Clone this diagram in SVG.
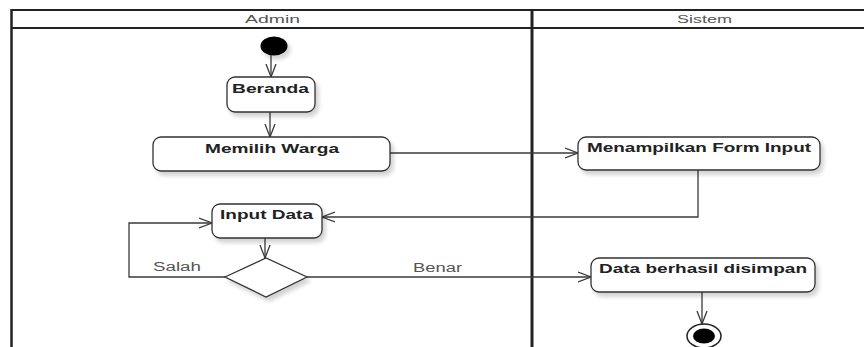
<svg xmlns="http://www.w3.org/2000/svg" width="864" height="347" viewBox="0 0 864 347">
<style>
.lane{stroke:#222;fill:none}
.hdr{font-family:"Liberation Sans",Arial,sans-serif;font-size:11.5px;fill:#555}
.node{fill:#fff;stroke:#333;stroke-width:1.3}
.lbl{font-family:"Liberation Sans",Arial,sans-serif;font-weight:bold;font-size:13.5px;fill:#222}
.guard{font-family:"Liberation Sans",Arial,sans-serif;font-size:12.5px;fill:#555}
.edge{fill:none;stroke:#3a3a3a;stroke-width:1.3}
</style>
<defs>
<filter id="sh" x="-10%" y="-10%" width="130%" height="150%">
<feGaussianBlur in="SourceAlpha" stdDeviation="2"/>
<feOffset dx="3" dy="4" result="b"/>
<feComponentTransfer><feFuncA type="linear" slope="0.18"/></feComponentTransfer>
<feMerge><feMergeNode/><feMergeNode in="SourceGraphic"/></feMerge>
</filter>
<marker id="arr" markerUnits="userSpaceOnUse" markerWidth="16" markerHeight="14" refX="13" refY="6" orient="auto">
<path d="M0,1 L13,6 L0,11" fill="none" stroke="#3a3a3a" stroke-width="1.3"/>
</marker>
</defs>
<rect width="864" height="347" fill="#fff"/>
<g id="swimlanes">
<line class="lane" x1="11" y1="10" x2="864" y2="10" stroke-width="2"/>
<line class="lane" x1="11" y1="28" x2="864" y2="28" stroke-width="2"/>
<line class="lane" x1="11.5" y1="9" x2="11.5" y2="347" stroke-width="2.5"/>
<line class="lane" x1="532" y1="9" x2="532" y2="347" stroke-width="3"/>
<text class="hdr" x="245" y="23" textLength="55" lengthAdjust="spacingAndGlyphs">Admin</text>
<text class="hdr" x="677" y="23" textLength="55" lengthAdjust="spacingAndGlyphs">Sistem</text>
</g>
<g id="connectors">
<line class="edge" x1="271" y1="55" x2="271" y2="77" marker-end="url(#arr)"/>
<line class="edge" x1="270" y1="112" x2="270" y2="137" marker-end="url(#arr)"/>
<line class="edge" x1="390" y1="153" x2="578" y2="153" marker-end="url(#arr)"/>
<polyline class="edge" points="698,170 698,217 322,217" marker-end="url(#arr)"/>
<line class="edge" x1="265" y1="238" x2="265" y2="258" marker-end="url(#arr)"/>
<polyline class="edge" points="225,277 129,277 129,223 212,223" marker-end="url(#arr)"/>
<line class="edge" x1="307" y1="277" x2="591" y2="277" marker-end="url(#arr)"/>
<line class="edge" x1="702" y1="292" x2="702" y2="324" marker-end="url(#arr)"/>
<text class="guard" x="153" y="271" textLength="48" lengthAdjust="spacingAndGlyphs">Salah</text>
<text class="guard" x="413" y="272" textLength="49" lengthAdjust="spacingAndGlyphs">Benar</text>
</g>
<g id="start">
<ellipse cx="274" cy="46" rx="13.5" ry="9.5" fill="#000" filter="url(#sh)"/>
</g>
<g id="beranda">
<rect class="node" x="227" y="77" width="88" height="35" rx="8" filter="url(#sh)"/>
<text class="lbl" x="232" y="93" textLength="77" lengthAdjust="spacingAndGlyphs">Beranda</text>
</g>
<g id="memilih-warga">
<rect class="node" x="153" y="137" width="237" height="34" rx="8" filter="url(#sh)"/>
<text class="lbl" x="205" y="152.5" textLength="134" lengthAdjust="spacingAndGlyphs">Memilih Warga</text>
</g>
<g id="menampilkan-form-input">
<rect class="node" x="578" y="137" width="242" height="33" rx="8" filter="url(#sh)"/>
<text class="lbl" x="587" y="152" textLength="224" lengthAdjust="spacingAndGlyphs">Menampilkan Form Input</text>
</g>
<g id="input-data">
<rect class="node" x="212" y="204" width="110" height="34" rx="8" filter="url(#sh)"/>
<text class="lbl" x="220" y="219" textLength="93" lengthAdjust="spacingAndGlyphs">Input Data</text>
</g>
<g id="decision">
<polygon class="node" points="225,277 266,258 307,277 266,297" filter="url(#sh)"/>
</g>
<g id="data-berhasil-disimpan">
<rect class="node" x="591" y="258" width="224" height="34" rx="8" filter="url(#sh)"/>
<text class="lbl" x="599" y="272.5" textLength="208" lengthAdjust="spacingAndGlyphs">Data berhasil disimpan</text>
</g>
<g id="end">
<ellipse cx="704" cy="336" rx="17" ry="12" fill="#fff" stroke="#222" stroke-width="1.5"/>
<ellipse cx="704" cy="336" rx="11" ry="7.5" fill="#000"/>
</g>
</svg>
